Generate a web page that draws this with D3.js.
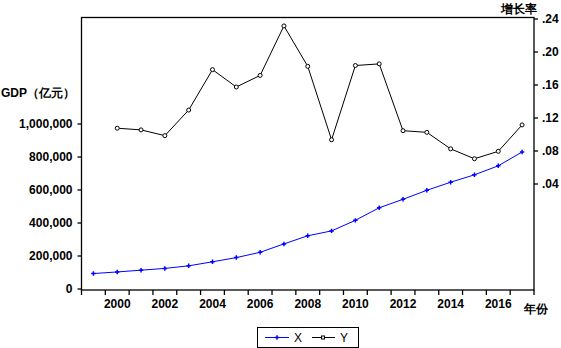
<!DOCTYPE html>
<html>
<head>
<meta charset="utf-8">
<script src="https://cdnjs.cloudflare.com/ajax/libs/d3/7.8.5/d3.min.js"></script>
<style>
  body { margin: 0; background: #fff; }
  svg text { font-family: "Liberation Sans", Arial, sans-serif; }
</style>
</head>
<body>
<div id="chart"></div>
<script>
// data
var years = [1999, 2000, 2001, 2002, 2003, 2004, 2005, 2006, 2007, 2008,
             2009, 2010, 2011, 2012, 2013, 2014, 2015, 2016, 2017]
var gdp = [90600, 100300, 110900, 121700, 137400, 161800, 187300, 219400, 270200, 319500,
           349100, 413000, 489300, 540400, 595200, 644000, 689100, 743600, 827100]
// growth rate starts in 2000
var rate = [null, 0.107, 0.105, 0.098, 0.129, 0.178, 0.157, 0.171, 0.231, 0.182,
            0.093, 0.183, 0.185, 0.104, 0.102, 0.082, 0.070, 0.079, 0.111]
var gdpTicks = [0, 200000, 400000, 600000, 800000, 1000000]
var rateTicks = [0.04, 0.08, 0.12, 0.16, 0.20, 0.24]
var yearLabels = [2000, 2002, 2004, 2006, 2008, 2010, 2012, 2014, 2016]

var W = 561, H = 348
var frame = {left: 81.5, right: 534, top: 17.5, bottom: 290}

var svg = d3.select("#chart")
  .append("svg")
  .attr("width", W)
  .attr("height", H)

var x = d3.scaleBand()
  .domain(years)
  .range([frame.left, frame.right])
  .padding(0)
var yL = d3.scaleLinear().domain([0, 1000000]).range([288.5, 123.5])
var yR = d3.scaleLinear().domain([0.04, 0.24]).range([183.5, 18.5])
var cx = function(i){ return x(years[i]) + x.bandwidth() / 2 }

// frame
svg.append("rect")
  .attr("x", frame.left).attr("y", frame.top)
  .attr("width", frame.right - frame.left)
  .attr("height", frame.bottom - frame.top)
  .attr("fill", "none")
  .attr("stroke", "#000")
  .attr("stroke-width", 1.3)

// left axis
var gl = svg.append("g")
  .attr("transform", "translate(" + frame.left + ",0)")
  .call(d3.axisLeft(yL).tickValues(gdpTicks).tickSize(4).tickPadding(5).tickFormat(d3.format(",")))
gl.select(".domain").remove()
gl.selectAll("text").attr("font-size", 12).attr("font-weight", "bold")
gl.selectAll("line").attr("stroke-width", 1.3)

svg.append("text")
  .attr("x", 1).attr("y", 97)
  .attr("font-size", 12).attr("font-weight", "bold")
  .text("GDP（亿元）")

// right axis
var gr = svg.append("g")
  .attr("transform", "translate(" + frame.right + ",0)")
  .call(d3.axisRight(yR).tickValues(rateTicks).tickSize(4).tickPadding(4)
    .tickFormat(function(d){ return d3.format(".2f")(d).replace(/^0/, "") }))
gr.select(".domain").remove()
gr.selectAll("text").attr("font-size", 12).attr("font-weight", "bold")
gr.selectAll("line").attr("stroke-width", 1.3)

svg.append("text")
  .attr("x", 537).attr("y", 13)
  .attr("text-anchor", "end")
  .attr("font-size", 12).attr("font-weight", "bold")
  .text("增长率")

// bottom axis: ticks on band edges, labels in band centres
svg.append("g").selectAll("line")
  .data(years.concat([null]))
  .enter()
  .append("line")
  .attr("x1", function(d, i){ return i < years.length ? x(d) : frame.right })
  .attr("x2", function(d, i){ return i < years.length ? x(d) : frame.right })
  .attr("y1", frame.bottom)
  .attr("y2", frame.bottom + 5)
  .attr("stroke", "#000")
  .attr("stroke-width", 1.3)

var gb = svg.append("g")
  .attr("transform", "translate(0," + frame.bottom + ")")
  .call(d3.axisBottom(x).tickValues(yearLabels).tickSize(0).tickPadding(9))
gb.select(".domain").remove()
gb.selectAll("text").attr("font-size", 12).attr("font-weight", "bold")

svg.append("text")
  .attr("x", 524).attr("y", 313)
  .attr("font-size", 12).attr("font-weight", "bold")
  .text("年份")

// GDP line (blue)
var lineL = d3.line()
  .x(function(d, i){ return cx(i) })
  .y(function(d){ return yL(d) })
svg.append("path")
  .datum(gdp)
  .attr("d", lineL)
  .attr("fill", "none")
  .attr("stroke", "#0000ff")
  .attr("stroke-width", 1)
svg.append("g").selectAll("path")
  .data(gdp)
  .enter()
  .append("path")
  .attr("transform", function(d, i){ return "translate(" + cx(i) + "," + yL(d) + ")" })
  .attr("d", d3.symbol(d3.symbolCross, 11))
  .attr("fill", "#0000ff")

// growth rate line (black)
var lineR = d3.line()
  .defined(function(d){ return d != null })
  .x(function(d, i){ return cx(i) })
  .y(function(d){ return yR(d) })
svg.append("path")
  .datum(rate)
  .attr("d", lineR)
  .attr("fill", "none")
  .attr("stroke", "#000")
  .attr("stroke-width", 1)
svg.append("g").selectAll("circle")
  .data(rate)
  .enter()
  .filter(function(d){ return d != null })
  .append("circle")
  .attr("cx", function(d){ return cx(rate.indexOf(d)) })
  .attr("cy", function(d){ return yR(d) })
  .attr("r", 2)
  .attr("fill", "#fff")
  .attr("stroke", "#000")
  .attr("stroke-width", 1)

// legend
var lg = svg.append("g")
lg.append("rect")
  .attr("x", 257.5).attr("y", 327.5)
  .attr("width", 101).attr("height", 20)
  .attr("fill", "#fff").attr("stroke", "#000").attr("stroke-width", 1)
lg.append("line")
  .attr("x1", 265).attr("x2", 289).attr("y1", 337.5).attr("y2", 337.5)
  .attr("stroke", "#0000ff")
lg.append("path")
  .attr("transform", "translate(277,337.5)")
  .attr("d", d3.symbol(d3.symbolCross, 11))
  .attr("fill", "#0000ff")
lg.append("text")
  .attr("x", 294).attr("y", 342)
  .attr("font-size", 12)
  .text("X")
lg.append("line")
  .attr("x1", 312).attr("x2", 335).attr("y1", 337.5).attr("y2", 337.5)
  .attr("stroke", "#000")
lg.append("rect")
  .attr("x", 321.5).attr("y", 336).attr("width", 3).attr("height", 3)
  .attr("fill", "#fff").attr("stroke", "#000")
lg.append("text")
  .attr("x", 340).attr("y", 342)
  .attr("font-size", 12)
  .text("Y")
</script>
</body>
</html>
